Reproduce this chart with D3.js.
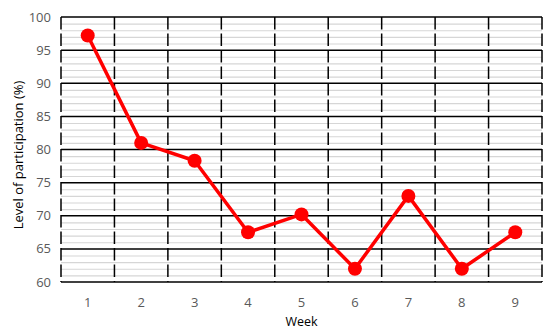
<!DOCTYPE html>
<html>
<head>
<meta charset="utf-8">
<script src="https://cdn.jsdelivr.net/npm/d3@7"></script>
<style>
  body { margin: 0; background: #fff; }
  text { font-family: "Open Sans", "Liberation Sans", sans-serif; }
</style>
</head>
<body>
<div id="chart"></div>
<script>
'use strict';

// Data
var weeks = [1, 2, 3, 4, 5, 6, 7, 8, 9];
var participation = [97.2, 81, 78.3, 67.5, 70.2, 62, 73, 62, 67.5];
var yTicks = [60, 65, 70, 75, 80, 85, 90, 95, 100];

var width = 550, height = 334;
var margin = { top: 17, right: 8, bottom: 52, left: 61 };
var innerW = width - margin.left - margin.right;
var innerH = height - margin.top - margin.bottom;

var svg = d3.select('#chart').append('svg')
  .attr('width', width)
  .attr('height', height);

var g = svg.append('g').attr('transform', 'translate(' + margin.left + ',' + margin.top + ')');

var x = d3.scaleBand().domain(weeks).range([0, innerW]).padding(0);
var y = d3.scaleLinear().domain([60, 100]).range([innerH, 0]);

// minor gridlines, every 1 unit
var minor = d3.range(61, 100).filter(function (v) { return v % 5 !== 0; });
g.selectAll('.minor').data(minor).enter().append('line')
  .attr('x1', 0).attr('x2', innerW)
  .attr('y1', function (d) { return y(d) + 0.5; })
  .attr('y2', function (d) { return y(d) + 0.5; })
  .attr('stroke', '#d6d6d6').attr('stroke-width', 1.2);

// major gridlines
g.selectAll('.major').data(yTicks).enter().append('line')
  .attr('x1', 0).attr('x2', innerW)
  .attr('y1', function (d) { return y(d); })
  .attr('y2', function (d) { return y(d); })
  .attr('stroke', '#000').attr('stroke-width', 1.5);

// dashed verticals at category boundaries
var bounds = weeks.map(function (d) { return x(d); }).concat([innerW]);
g.selectAll('.vgrid').data(bounds).enter().append('line')
  .attr('x1', function (d) { return d; }).attr('x2', function (d) { return d; })
  .attr('y1', 0).attr('y2', innerH)
  .attr('stroke', '#000').attr('stroke-width', 1.5)
  .attr('stroke-dasharray', '12.5,4');

// y tick labels
g.selectAll('.ylab').data(yTicks).enter().append('text')
  .attr('x', -10).attr('y', function (d) { return y(d); })
  .attr('dy', '0.35em')
  .attr('text-anchor', 'end')
  .attr('font-size', 13)
  .attr('fill', '#595959')
  .text(function (d) { return d; });

// x tick labels
g.selectAll('.xlab').data(weeks).enter().append('text')
  .attr('x', function (d) { return x(d) + x.bandwidth() / 2; })
  .attr('y', innerH + 25)
  .attr('text-anchor', 'middle')
  .attr('font-size', 13)
  .attr('fill', '#595959')
  .text(function (d) { return d; });

// line + markers
var line = d3.line()
  .x(function (d, i) { return x(weeks[i]) + x.bandwidth() / 2; })
  .y(function (d) { return y(d); });

g.append('path').datum(participation)
  .attr('d', line)
  .attr('fill', 'none')
  .attr('stroke', '#ff0000')
  .attr('stroke-width', 3.5)
  .attr('stroke-linejoin', 'round');

g.selectAll('.dot').data(participation).enter().append('circle')
  .attr('cx', function (d, i) { return x(weeks[i]) + x.bandwidth() / 2; })
  .attr('cy', function (d) { return y(d); })
  .attr('r', 7)
  .attr('fill', '#ff0000');

// axis titles
svg.append('text')
  .attr('x', margin.left + innerW / 2).attr('y', 326)
  .attr('text-anchor', 'middle')
  .attr('font-size', 12.5)
  .attr('fill', '#000')
  .text('Week');

svg.append('text')
  .attr('transform', 'translate(23,155) rotate(-90)')
  .attr('text-anchor', 'middle')
  .attr('font-size', 13)
  .attr('fill', '#000')
  .text('Level of participation (%)');
</script>
</body>
</html>
